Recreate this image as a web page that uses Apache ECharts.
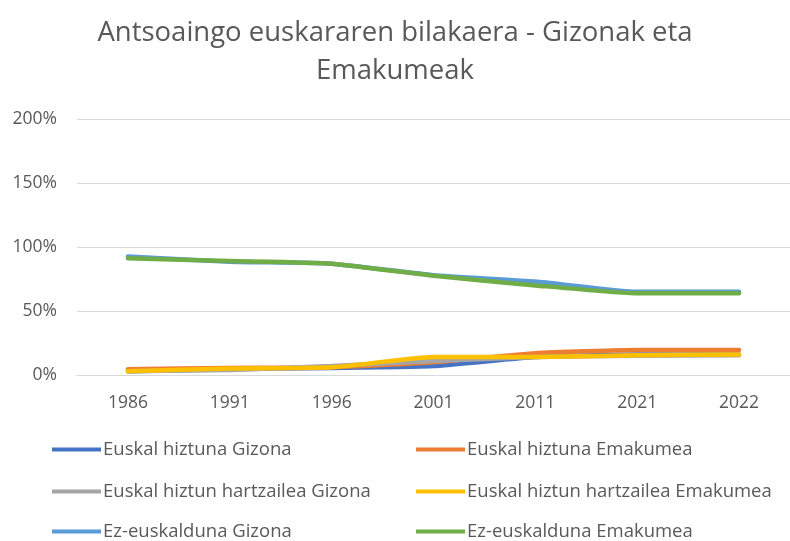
<!DOCTYPE html>
<html>
<head>
<meta charset="utf-8">
<script src="https://cdn.jsdelivr.net/npm/echarts@6/dist/echarts.min.js"></script>
<style>html,body{margin:0;padding:0;background:#fff}#c{width:790px;height:541px}</style>
</head>
<body>
<div id="c"></div>
<script>
const categories = ['1986','1991','1996','2001','2011','2021','2022'];
const seriesNames = ['Euskal hiztuna Gizona','Euskal hiztuna Emakumea','Euskal hiztun hartzailea Gizona','Euskal hiztun hartzailea Emakumea','Ez-euskalduna Gizona','Ez-euskalduna Emakumea'];
const hiztunaGizona = [3, 4.5, 5.5, 7, 14, 16, 16];
const hiztunaEmakumea = [4.5, 5.5, 6, 10, 17, 19.5, 19.5];
const hartzaileaGizona = [3, 4, 7, 11, 14, 15, 15.5];
const hartzaileaEmakumea = [3, 5, 6, 14, 14, 15.5, 16];
const ezGizona = [92.5, 88.5, 87, 78, 73, 65, 65];
const ezEmakumea = [91.2, 89, 87, 77.5, 70, 63.8, 63.8];
const colors = ['#4472C4','#ED7D31','#A5A5A5','#FFC000','#5B9BD5','#70AD47'];
const dataList = [hiztunaGizona, hiztunaEmakumea, hartzaileaGizona, hartzaileaEmakumea, ezGizona, ezEmakumea];

const chart = echarts.init(document.getElementById('c'));
const font = '"Open Sans", sans-serif';
const legends = seriesNames.map((n, i) => ({
  data: [n],
  left: i % 2 === 0 ? 52 : 416,
  top: [440, 482, 522][Math.floor(i / 2)],
  icon: 'rect',
  itemWidth: 49,
  itemHeight: 4,
  itemGap: 0,
  padding: 0,
  textStyle: { color: '#595959', fontSize: 18.5, fontFamily: font, padding: [2, 0, 0, -3] }
}));
chart.setOption({
  animation: false,
  color: colors,
  title: {
    text: 'Antsoaingo euskararen bilakaera - Gizonak eta\nEmakumeak',
    left: 'center',
    top: 9,
    textStyle: { color: '#595959', fontSize: 27.5, fontWeight: 'normal', fontFamily: font, lineHeight: 38 }
  },
  legend: legends,
  grid: { left: 77, top: 119, width: 724, height: 256 },
  xAxis: {
    type: 'category',
    data: categories,
    boundaryGap: true,
    axisLine: { lineStyle: { color: '#D9D9D9' } },
    axisTick: { show: false },
    axisLabel: { color: '#595959', fontSize: 17.5, fontFamily: font, margin: 19 }
  },
  yAxis: {
    type: 'value',
    min: 0, max: 200, interval: 50,
    axisLine: { show: false },
    axisTick: { show: false },
    splitLine: { lineStyle: { color: '#D9D9D9' } },
    axisLabel: { color: '#595959', fontSize: 17.5, fontFamily: font, margin: 20, formatter: v => v + '%' }
  },
  series: dataList.map((d, i) => ({
    name: seriesNames[i],
    type: 'line',
    data: d,
    smooth: 0.15,
    showSymbol: false,
    symbol: 'none',
    lineStyle: { width: 4.5, color: colors[i], cap: 'round' },
    itemStyle: { color: colors[i] }
  }))
});
</script>
</body>
</html>
